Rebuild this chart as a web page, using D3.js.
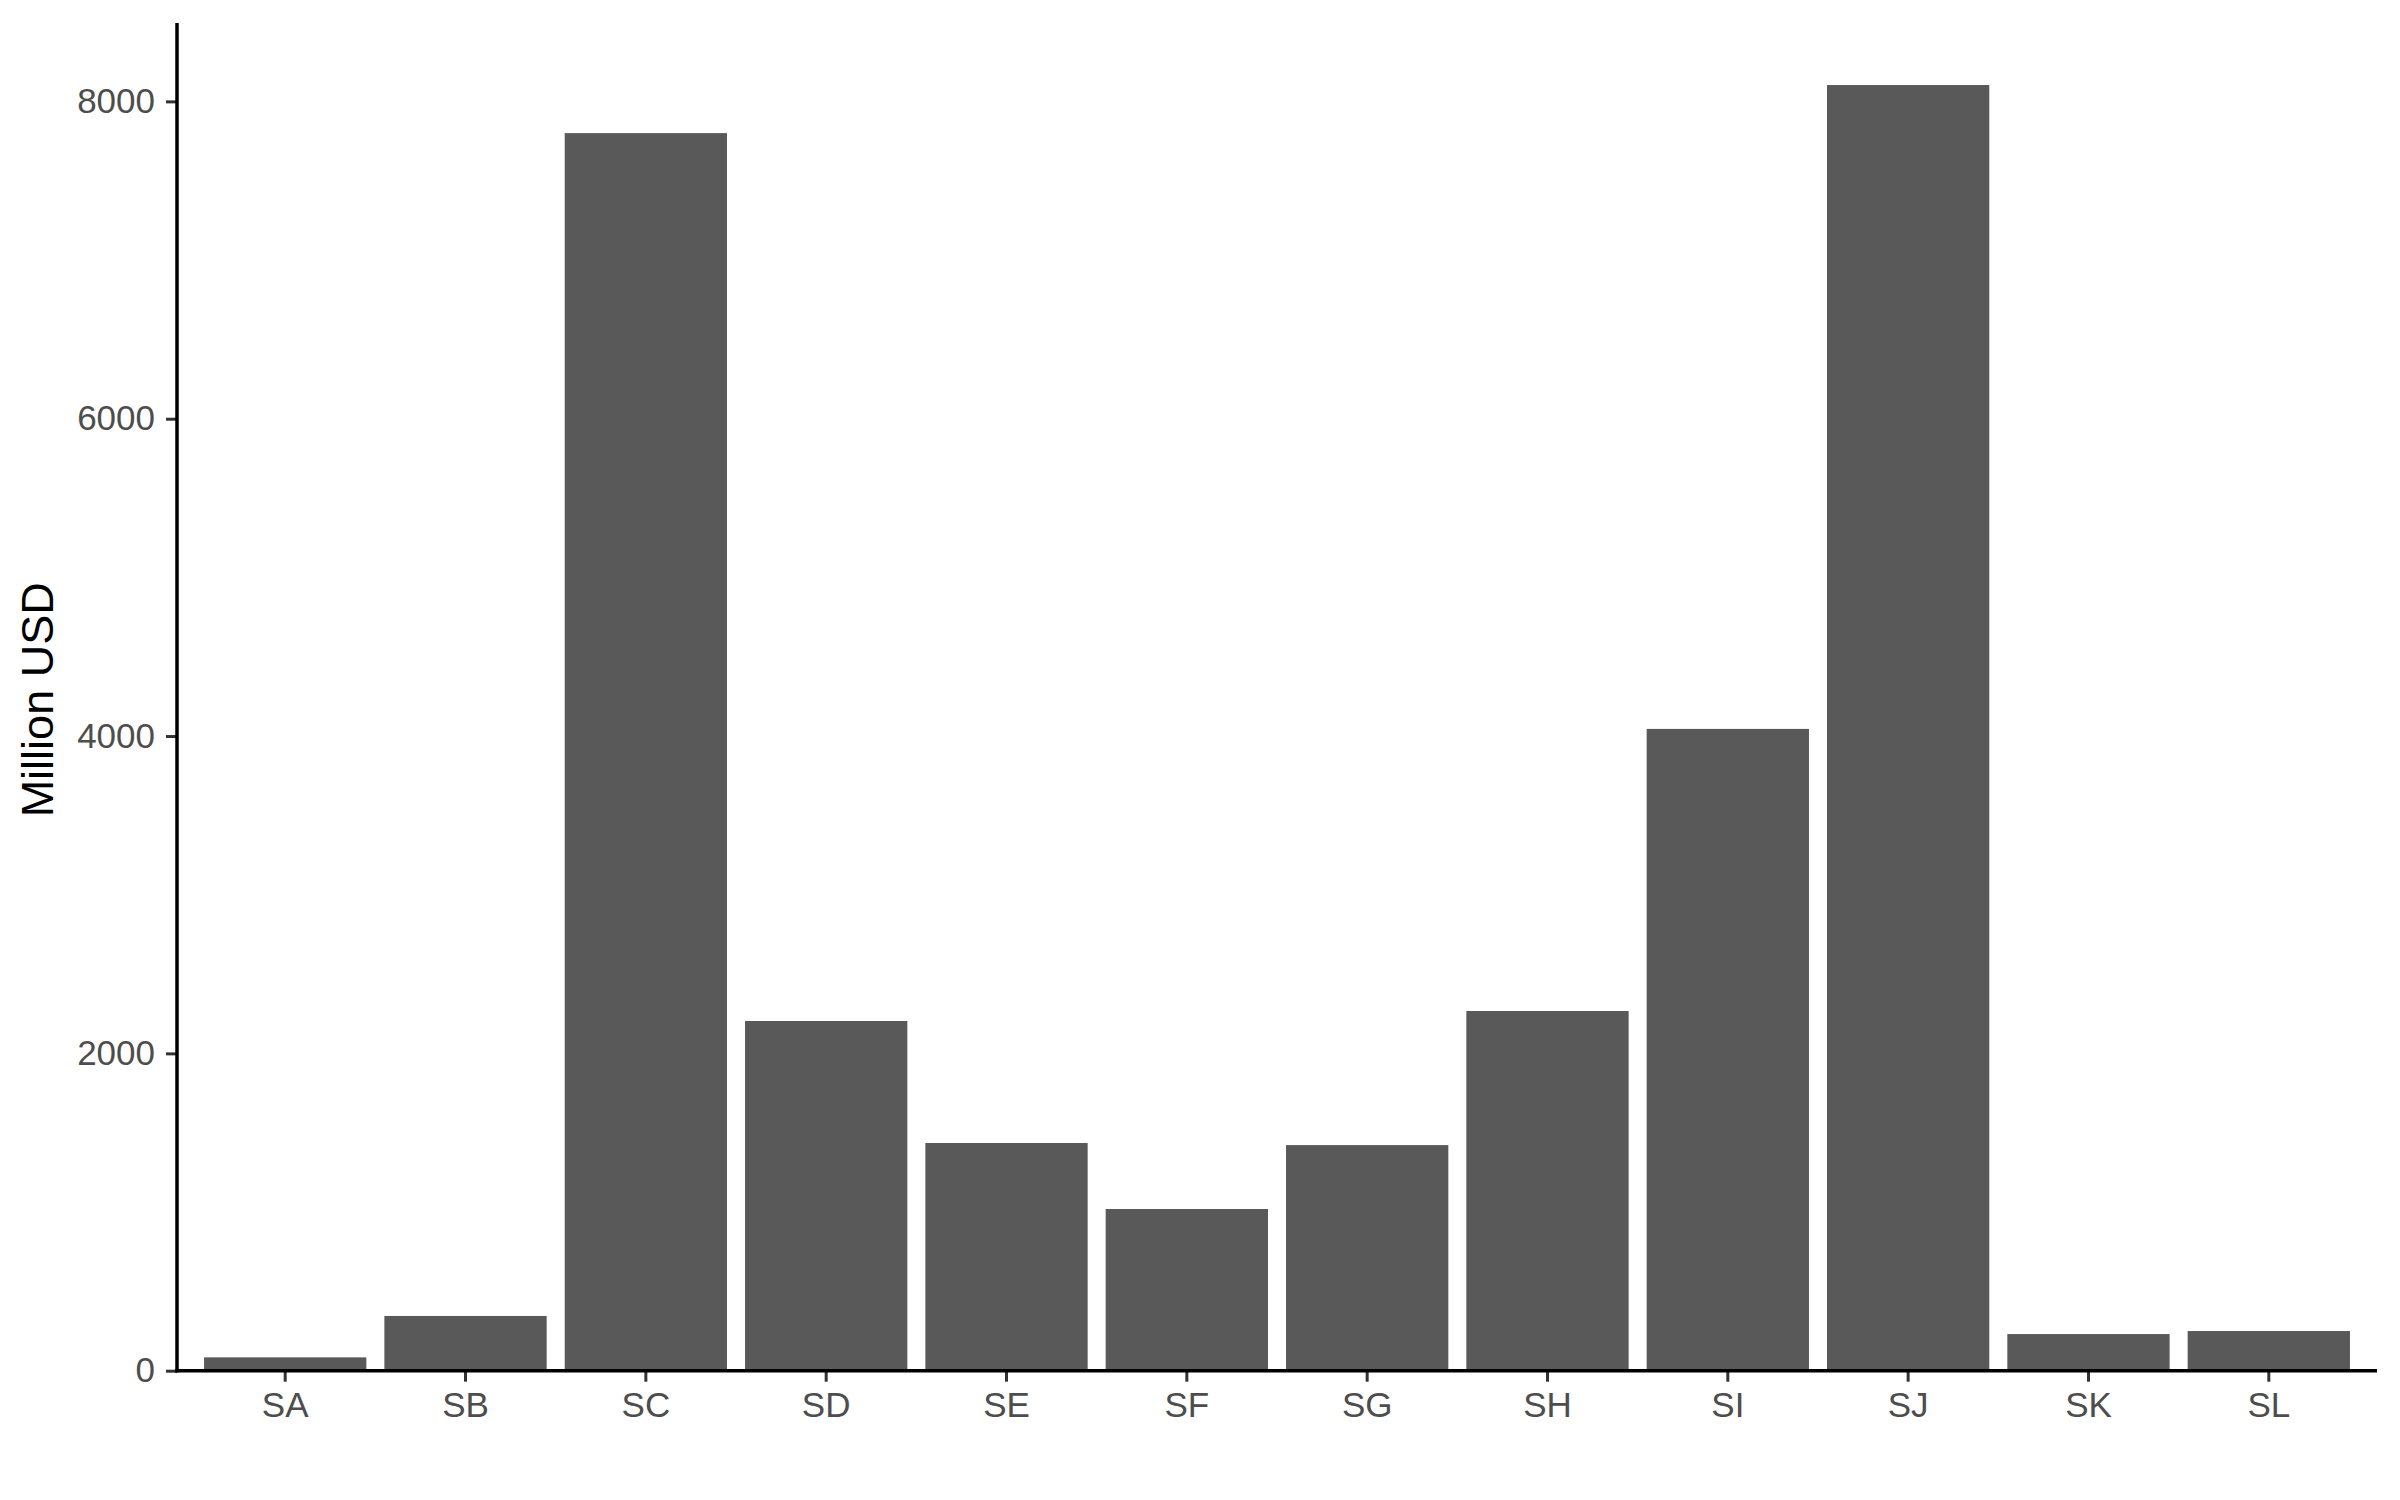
<!DOCTYPE html>
<html>
<head>
<meta charset="utf-8">
<script src="https://cdn.jsdelivr.net/npm/d3@7"></script>
<style>
  body { margin: 0; background: #fff; }
  svg { display: block; font-family: "Liberation Sans", Arial, sans-serif; }
</style>
</head>
<body>
<div id="chart"></div>
<script>
// data
var categories = ["SA", "SB", "SC", "SD", "SE", "SF", "SG", "SH", "SI", "SJ", "SK", "SL"];
var values = [84, 345, 7800, 2204, 1435, 1019, 1422, 2267, 4045, 8103, 231, 250];
var yTicks = [0, 2000, 4000, 6000, 8000];
var yTitle = "Million USD";

drawChart();

function drawChart(){
  var width = 2400, height = 1500;
  var panelLeft = 177, panelRight = 2377, panelTop = 23, panelBottom = 1370.7;

  var svg = d3.select("#chart").append("svg")
      .attr("width", width)
      .attr("height", height);

  var x = d3.scaleBand()
      .domain(categories)
      .range([panelLeft, panelRight])
      .paddingInner(0.1)
      .paddingOuter(0.15);

  var y = d3.scaleLinear()
      .domain([0, 8494])
      .range([panelBottom, panelTop]);

  // bars
  svg.append("g")
    .selectAll("rect")
    .data(values)
    .enter().append("rect")
      .attr("x", function(d, i) { return x(categories[i]); })
      .attr("y", function(d) { return y(d); })
      .attr("width", x.bandwidth())
      .attr("height", function(d) { return y(0) - y(d); })
      .attr("fill", "#595959");

  // y axis
  var gy = svg.append("g")
      .attr("transform", "translate(" + panelLeft + ",0)")
      .call(d3.axisLeft(y).tickValues(yTicks).tickSize(11).tickPadding(11).tickFormat(d3.format("d")));
  gy.select(".domain").remove();
  gy.selectAll(".tick line").attr("stroke", "#333333").attr("stroke-width", 3);
  gy.selectAll(".tick text")
      .attr("fill", "#4D4D4D")
      .attr("font-size", 35)
      .attr("font-family", "Liberation Sans, Arial, sans-serif");

  // x axis
  var gx = svg.append("g")
      .attr("transform", "translate(0," + panelBottom + ")")
      .call(d3.axisBottom(x).tickSize(11).tickPadding(10));
  gx.select(".domain").remove();
  gx.selectAll(".tick line").attr("stroke", "#333333").attr("stroke-width", 3);
  gx.selectAll(".tick text")
      .attr("fill", "#4D4D4D")
      .attr("font-size", 35)
      .attr("font-family", "Liberation Sans, Arial, sans-serif");

  // axis lines
  svg.append("line")
      .attr("x1", panelLeft).attr("x2", panelLeft)
      .attr("y1", panelTop).attr("y2", panelBottom + 1.7)
      .attr("stroke", "#000").attr("stroke-width", 3.5);
  svg.append("line")
      .attr("x1", panelLeft - 1.7).attr("x2", panelRight)
      .attr("y1", panelBottom).attr("y2", panelBottom)
      .attr("stroke", "#000").attr("stroke-width", 3.5);

  // y title
  svg.append("text")
      .attr("transform", "translate(53," + ((panelTop + panelBottom) / 2 + 3) + ") rotate(-90)")
      .attr("text-anchor", "middle")
      .attr("font-size", 45)
      .attr("fill", "#000")
      .text(yTitle);
}
</script>
</body>
</html>
